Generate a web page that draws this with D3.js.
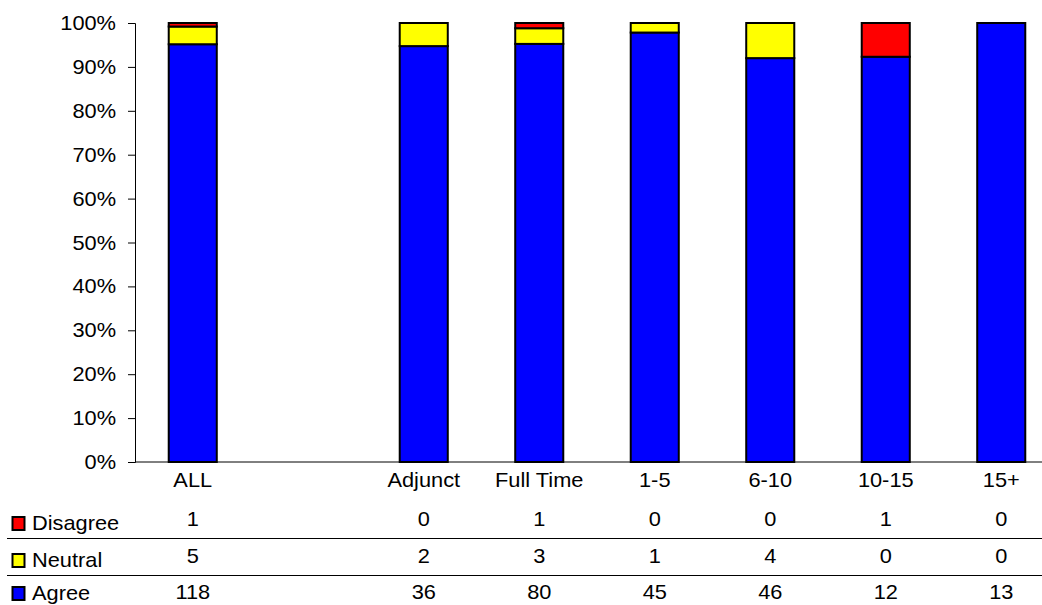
<!DOCTYPE html>
<html><head><meta charset="utf-8">
<script src="https://cdn.jsdelivr.net/npm/d3@7"></script>
<style>body{margin:0;background:#fff}svg{display:block;font-family:"Liberation Sans",Arial,sans-serif}</style>
</head><body><svg id="c" width="1042" height="605"></svg>
<script>
const categories = ["ALL", "", "Adjunct", "Full Time", "1-5", "6-10", "10-15", "15+"];
const disagree = [1, null, 0, 1, 0, 0, 1, 0];
const neutral  = [5, null, 2, 3, 1, 4, 0, 0];
const agree    = [118, null, 36, 80, 45, 46, 12, 13];
const seriesNames = ["Disagree", "Neutral", "Agree"];
const seriesColors = ["#FF0000", "#FFFF00", "#0000FF"];
const yTicks = [0, 0.1, 0.2, 0.3, 0.4, 0.5, 0.6, 0.7, 0.8, 0.9, 1];

const FS = 20, SX = 1.09;
const svg = d3.select("#c");
const mLeft = 135, mTop = 23, mBottom = 462;
const x = d3.scaleBand().domain(d3.range(categories.length)).range([mLeft, mLeft + 115.5 * categories.length]).paddingInner(0.584).paddingOuter(0.292);
const y = d3.scaleLinear().domain([0, 1]).range([mBottom, mTop]);

function label(px, py, txt, anchor) {
  return svg.append("text")
    .attr("transform", `translate(${px},${py}) scale(${SX},1)`)
    .attr("text-anchor", anchor || "middle")
    .attr("font-size", FS).attr("fill", "#000").text(txt);
}

// y axis
const ya = svg.append("g").attr("transform", `translate(${mLeft},0)`)
  .call(d3.axisLeft(y).tickValues(yTicks).tickFormat(d3.format(".0%")).tickSize(7).tickSizeOuter(7));
ya.selectAll("path,line").attr("stroke", "#000").attr("stroke-width", 1);
ya.selectAll("text").remove();
yTicks.forEach(t => label(mLeft - 19, y(t) + 7, d3.format(".0%")(t), "end"));

// stacked bars
const rows = categories.map((c, i) => ({i, Agree: agree[i], Neutral: neutral[i], Disagree: disagree[i]}));
const stackOrder = ["Agree", "Neutral", "Disagree"];
const colorOf = {Disagree: seriesColors[0], Neutral: seriesColors[1], Agree: seriesColors[2]};
rows.forEach(r => {
  if (r.Agree == null) return;
  const total = r.Agree + r.Neutral + r.Disagree;
  let acc = 0;
  stackOrder.forEach(k => {
    const v = r[k] / total;
    if (v > 0) {
      svg.append("rect")
        .attr("x", x(r.i)).attr("width", x.bandwidth())
        .attr("y", y(acc + v)).attr("height", y(acc) - y(acc + v))
        .attr("fill", colorOf[k]).attr("stroke", "#000").attr("stroke-width", 2);
    }
    acc += v;
  });
});

// x axis line
svg.append("line").attr("x1", mLeft).attr("x2", 1042).attr("y1", mBottom).attr("y2", mBottom).attr("stroke", "#000");

// category labels
categories.forEach((c, i) => label(x(i) + x.bandwidth() / 2, 487, c));

// data table
const tableVals = [disagree, neutral, agree];
const valY = [526, 563, 599];
const legY = [530, 567, 600];
tableVals.forEach((vals, r) => {
  svg.append("rect").attr("x", 12.5).attr("y", legY[r] - 13).attr("width", 12).attr("height", 13)
    .attr("fill", seriesColors[r]).attr("stroke", "#000").attr("stroke-width", 2);
  label(32, legY[r], seriesNames[r], "start");
  vals.forEach((v, i) => {
    if (v == null) return;
    label(x(i) + x.bandwidth() / 2, valY[r], v);
  });
});
[538, 575].forEach(yy => svg.append("line").attr("x1", 7).attr("x2", 1042).attr("y1", yy + 0.5).attr("y2", yy + 0.5).attr("stroke", "#000"));
</script></body></html>
